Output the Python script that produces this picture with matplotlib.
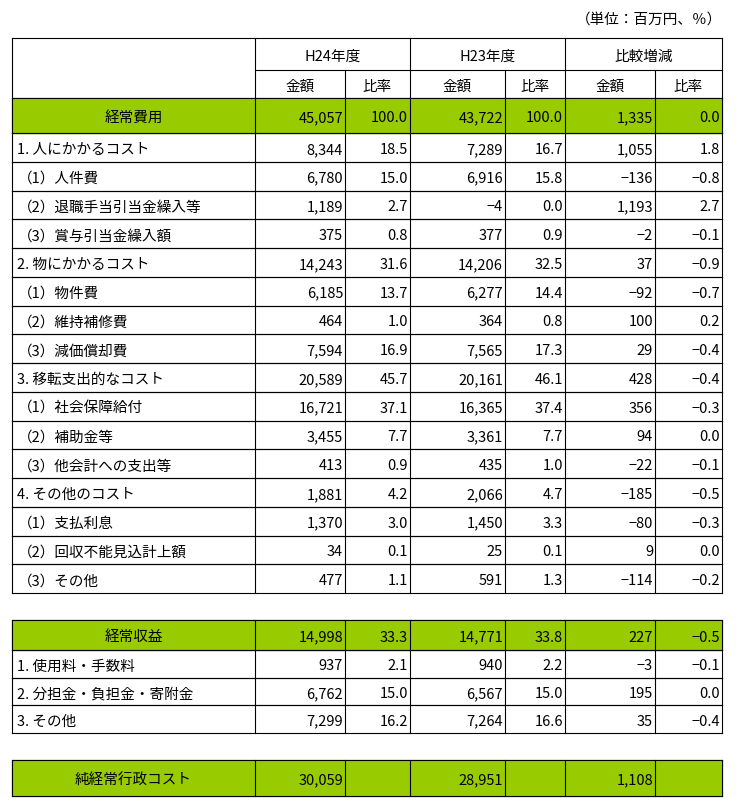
import matplotlib.pyplot as plt
from matplotlib.patches import Rectangle

plt.rcParams['font.family'] = 'Noto Sans CJK JP'

GREEN = '#99cc00'

labels1 = ['経常費用', '1. 人にかかるコスト', '（1）人件費', '（2）退職手当引当金繰入等', '（3）賞与引当金繰入額',
           '2. 物にかかるコスト', '（1）物件費', '（2）維持補修費', '（3）減価償却費',
           '3. 移転支出的なコスト', '（1）社会保障給付', '（2）補助金等', '（3）他会計への支出等',
           '4. その他のコスト', '（1）支払利息', '（2）回収不能見込計上額', '（3）その他']
h24_amt1 = [45057, 8344, 6780, 1189, 375, 14243, 6185, 464, 7594, 20589, 16721, 3455, 413, 1881, 1370, 34, 477]
h24_pct1 = [100.0, 18.5, 15.0, 2.7, 0.8, 31.6, 13.7, 1.0, 16.9, 45.7, 37.1, 7.7, 0.9, 4.2, 3.0, 0.1, 1.1]
h23_amt1 = [43722, 7289, 6916, -4, 377, 14206, 6277, 364, 7565, 20161, 16365, 3361, 435, 2066, 1450, 25, 591]
h23_pct1 = [100.0, 16.7, 15.8, 0.0, 0.9, 32.5, 14.4, 0.8, 17.3, 46.1, 37.4, 7.7, 1.0, 4.7, 3.3, 0.1, 1.3]
diff_amt1 = [1335, 1055, -136, 1193, -2, 37, -92, 100, 29, 428, 356, 94, -22, -185, -80, 9, -114]
diff_pct1 = [0.0, 1.8, -0.8, 2.7, -0.1, -0.9, -0.7, 0.2, -0.4, -0.4, -0.3, 0.0, -0.1, -0.5, -0.3, 0.0, -0.2]

labels2 = ['経常収益', '1. 使用料・手数料', '2. 分担金・負担金・寄附金', '3. その他']
h24_amt2 = [14998, 937, 6762, 7299]
h24_pct2 = [33.3, 2.1, 15.0, 16.2]
h23_amt2 = [14771, 940, 6567, 7264]
h23_pct2 = [33.8, 2.2, 15.0, 16.6]
diff_amt2 = [227, -3, 195, 35]
diff_pct2 = [-0.5, -0.1, 0.0, -0.4]

label3 = '純経常行政コスト'
amt3 = [30059, 28951, 1108]

cols = [12, 255, 345, 410, 505, 565, 655, 722]

fig = plt.figure(figsize=(7.36, 8.09), dpi=100)
ax = fig.add_axes([0, 0, 1, 1])
ax.set_xlim(0, 736)
ax.set_ylim(809, 0)
ax.axis('off')
FS = 10.5
VA = 'center_baseline'


def fmt_amt(v):
    s = f'{abs(v):,}'
    return ('−' + s) if v < 0 else s


def fmt_pct(v):
    s = f'{abs(v):.1f}'
    return ('−' + s) if v < 0 else s


def hline(y, x0=cols[0], x1=cols[-1]):
    ax.plot([x0, x1], [y, y], color='black', lw=0.8)


def vline(x, y0, y1):
    ax.plot([x, x], [y0, y1], color='black', lw=0.8)


def draw_row(y0, y1, label, vals, green=False):
    if green:
        ax.add_patch(Rectangle((cols[0], y0), cols[-1] - cols[0], y1 - y0, color=GREEN, zorder=0))
    yc = (y0 + y1) / 2 + 1
    if green:
        ax.text((cols[0] + cols[1]) / 2, yc, label, ha='center', va=VA, fontsize=FS)
    elif label.startswith('（'):
        ax.text(cols[0] + 6, yc, label, ha='left', va=VA, fontsize=FS)
    else:
        ax.text(cols[0] + 5, yc, label, ha='left', va=VA, fontsize=FS)
    for i, v in enumerate(vals):
        if v is None:
            continue
        ax.text(cols[i + 2] - 2, yc, v, ha='right', va=VA, fontsize=FS)
    hline(y0)
    hline(y1)
    for x in cols:
        vline(x, y0, y1)


ax.text(722, 18, '（単位：百万円、％）', ha='right', va=VA, fontsize=FS)

# header
hline(38)
hline(70, cols[1], cols[-1])
for x in [cols[0], cols[1], cols[3], cols[5], cols[7]]:
    vline(x, 38, 98)
for x in [cols[2], cols[4], cols[6]]:
    vline(x, 70, 98)
for i, t in enumerate(['H24年度', 'H23年度', '比較増減']):
    ax.text((cols[1 + 2 * i] + cols[3 + 2 * i]) / 2, 55, t, ha='center', va=VA, fontsize=FS)
for i in range(6):
    ax.text((cols[1 + i] + cols[2 + i]) / 2, 85, '金額' if i % 2 == 0 else '比率', ha='center', va=VA, fontsize=FS)

# table 1
y = 98
for i, lab in enumerate(labels1):
    h = 35 if i == 0 else 28.75
    draw_row(y, y + h, lab, [fmt_amt(h24_amt1[i]), fmt_pct(h24_pct1[i]), fmt_amt(h23_amt1[i]),
                             fmt_pct(h23_pct1[i]), fmt_amt(diff_amt1[i]), fmt_pct(diff_pct1[i])], green=(i == 0))
    y += h

# table 2
y = 620
for i, lab in enumerate(labels2):
    h = 30 if i == 0 else 27.7
    draw_row(y, y + h, lab, [fmt_amt(h24_amt2[i]), fmt_pct(h24_pct2[i]), fmt_amt(h23_amt2[i]),
                             fmt_pct(h23_pct2[i]), fmt_amt(diff_amt2[i]), fmt_pct(diff_pct2[i])], green=(i == 0))
    y += h

# table 3
draw_row(760, 796, label3, [fmt_amt(amt3[0]), '', fmt_amt(amt3[1]), '', fmt_amt(amt3[2]), ''], green=True)

fig.savefig('out.png', dpi=100, facecolor='white')
